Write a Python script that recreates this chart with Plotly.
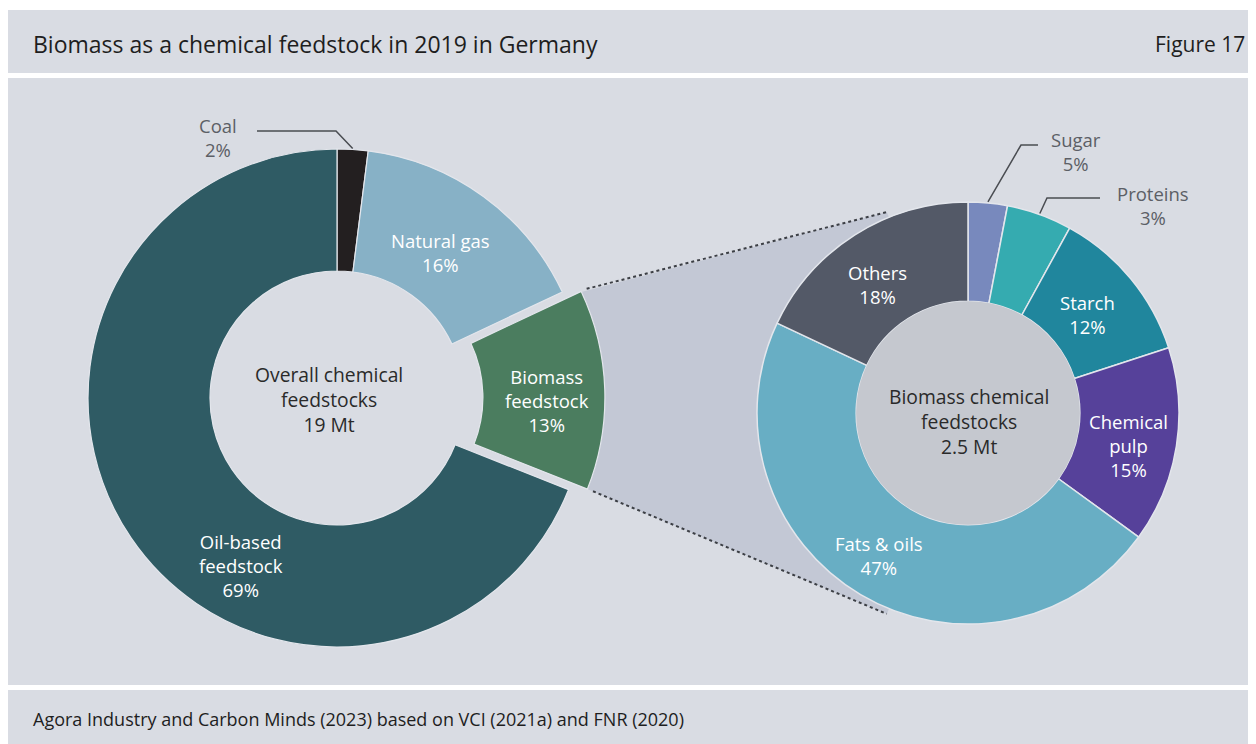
import numpy as np
import plotly.graph_objects as go

# The page places the figure 8 px from the window's top-left corner,
# so the figure is 8 px smaller and screen positions are shifted by 8.
OFF = 8
W, H = 1256 - OFF, 744 - OFF

# ---------------- data ----------------
overall_labels = ["Coal", "Natural gas", "Biomass<br>feedstock", "Oil-based<br>feedstock"]
overall_share = [2, 16, 13, 69]
overall_pct_text = ["2%", "16%", "13%", "69%"]
overall_total = "19 Mt"

biomass_labels = ["Sugar", "Proteins", "Starch", "Chemical<br>pulp", "Fats & oils", "Others"]
biomass_share = [3, 5, 12, 15, 47, 18]          # slice sizes as drawn
biomass_pct_text = ["5%", "3%", "12%", "15%", "47%", "18%"]  # as printed
biomass_total = "2.5 Mt"

overall_colors = ["#231f20", "#87b1c6", "#4b7d5f", "#2f5b64"]
biomass_colors = ["#7889bd", "#35abb0", "#20869d", "#56419a", "#68aec4", "#535967"]

title = "Biomass as a chemical feedstock in 2019 in Germany"
fig_no = "Figure 17"
source = "Agora Industry and Carbon Minds (2023) based on VCI (2021a) and FNR (2020)"

# ---------------- geometry (screen pixels) ----------------
FONT = "Open Sans"
BG = "#d9dce3"
L_CX, L_CY, L_R, L_PULL, L_HOLE = 337, 398, 249, 0.076, 0.51
R_CX, R_CY, R_R, R_HOLE = 968, 413, 211, 0.53


def px(x):
    return (x - OFF) / W


def py(y):
    return 1 - (y - OFF) / H


fig = go.Figure()

# left donut
half = L_R * (1 + L_PULL)
pulls = [0, 0, L_PULL, 0]
fig.add_trace(go.Pie(
    values=overall_share, labels=overall_labels, sort=False, direction="clockwise",
    rotation=0, hole=L_HOLE, pull=pulls, textinfo="none", hoverinfo="skip",
    marker=dict(colors=overall_colors, line=dict(color="#e3e6ec", width=1.2)),
    domain=dict(x=[px(L_CX - half), px(L_CX + half)], y=[py(L_CY + half), py(L_CY - half)]),
    showlegend=False,
))

# right donut
fig.add_trace(go.Pie(
    values=biomass_share, labels=biomass_labels, sort=False, direction="clockwise",
    rotation=0, hole=R_HOLE, textinfo="none", hoverinfo="skip",
    marker=dict(colors=biomass_colors, line=dict(color="#e3e6ec", width=1.5)),
    domain=dict(x=[px(R_CX - R_R), px(R_CX + R_R)], y=[py(R_CY + R_R), py(R_CY - R_R)]),
    showlegend=False,
))
# filled hole of right donut
rh = R_R * R_HOLE
fig.add_trace(go.Pie(
    values=[1], labels=["hole"], textinfo="none", hoverinfo="skip", sort=False,
    marker=dict(colors=["#c5c8cf"], line=dict(width=0)),
    domain=dict(x=[px(R_CX - rh), px(R_CX + rh)], y=[py(R_CY + rh), py(R_CY - rh)]),
    showlegend=False,
))

shapes = []
# panels
for y0, y1 in [(10, 73), (78, 685), (690, 760)]:
    shapes.append(dict(type="rect", xref="paper", yref="paper", x0=0, x1=1.01,
                       y0=py(y1), y1=py(y0), fillcolor=BG, line=dict(width=0), layer="below"))

# connector region
tot = sum(overall_share)
a0 = 2 * np.pi * sum(overall_share[:2]) / tot
a1 = a0 + 2 * np.pi * overall_share[2] / tot
am = (a0 + a1) / 2
pcx = L_CX + L_PULL * L_R * np.sin(am)
pcy = L_CY - L_PULL * L_R * np.cos(am)
b_top = np.deg2rad(338)
b_bot = np.deg2rad(202)
rr = R_R * 1.027
top_end = (R_CX + rr * np.sin(b_top), R_CY - rr * np.cos(b_top))
bot_end = (R_CX + rr * np.sin(b_bot), R_CY - rr * np.cos(b_bot))
arc = np.linspace(a1, a0, 30)
ra = L_R - 4
arc_pts = [(pcx + ra * np.sin(a), pcy - ra * np.cos(a)) for a in arc]
pts = [arc_pts[-1], top_end, (R_CX, R_CY), bot_end] + arc_pts
path = "M " + " L ".join(f"{px(x):.5f},{py(y):.5f}" for x, y in pts) + " Z"
shapes.append(dict(type="path", xref="paper", yref="paper", path=path,
                   fillcolor="#c3c8d5", line=dict(width=0), layer="below"))
rc = L_R + 6
for a, end in [(a0, top_end), (a1, bot_end)]:
    sx, sy = pcx + rc * np.sin(a), pcy - rc * np.cos(a)
    shapes.append(dict(type="line", xref="paper", yref="paper",
                       x0=px(sx), y0=py(sy), x1=px(end[0]), y1=py(end[1]),
                       line=dict(color="#3c3f45", width=2, dash="dot"), layer="above"))


# leader lines
def leader(cx, cy, r, shares, idx, elbow, end):
    t = sum(shares)
    a = 2 * np.pi * (sum(shares[:idx]) + shares[idx] / 2) / t
    sx, sy = cx + (r + 1) * np.sin(a), cy - (r + 1) * np.cos(a)
    p = f"M {px(sx):.5f},{py(sy):.5f} L {px(elbow[0]):.5f},{py(elbow[1]):.5f} L {px(end[0]):.5f},{py(end[1]):.5f}"
    return dict(type="path", xref="paper", yref="paper", path=p,
                line=dict(color="#4a4d52", width=1.5), layer="above")


shapes.append(leader(L_CX, L_CY, L_R, overall_share, 0, (336, 131), (257, 131)))
shapes.append(leader(R_CX, R_CY, R_R, biomass_share, 0, (1021, 145), (1038, 145)))
shapes.append(leader(R_CX, R_CY, R_R, biomass_share, 1, (1047, 198), (1100, 198)))

annotations = []


def ann(text, x, y, size=18.5, color="white", xanchor="center"):
    annotations.append(dict(text=text, x=px(x), y=py(y), xref="paper", yref="paper",
                            showarrow=False, xanchor=xanchor, yanchor="middle", align="center",
                            font=dict(family=FONT, size=size, color=color)))


ann(title, 31, 44, size=23, color="#1e1e1e", xanchor="left")
ann(fig_no, 1247, 44, size=21, color="#1e1e1e", xanchor="right")
ann(source, 31, 719, size=18, color="#1e1e1e", xanchor="left")

GRAY = "#5c5f66"
ann(f"{overall_labels[0]}<br>{overall_pct_text[0]}", 218, 137, color=GRAY)
ann(f"{overall_labels[1]}<br>{overall_pct_text[1]}", 440, 253)
ann(f"{overall_labels[2]}<br>{overall_pct_text[2]}", 547, 400)
ann(f"{overall_labels[3]}<br>{overall_pct_text[3]}", 241, 565)
ann(f"Overall chemical<br>feedstocks<br>{overall_total}", 329, 399, size=19.3, color="#2a2a2a")

ann(f"{biomass_labels[0]}<br>{biomass_pct_text[0]}", 1076, 151, color=GRAY)
ann(f"{biomass_labels[1]}<br>{biomass_pct_text[1]}", 1153, 205, color=GRAY)
ann(f"{biomass_labels[2]}<br>{biomass_pct_text[2]}", 1087, 314)
ann(f"{biomass_labels[3]}<br>{biomass_pct_text[3]}", 1128, 445)
ann(f"{biomass_labels[4]}<br>{biomass_pct_text[4]}", 879, 555)
ann(f"{biomass_labels[5]}<br>{biomass_pct_text[5]}", 877, 285)
ann(f"Biomass chemical<br>feedstocks<br>{biomass_total}", 969, 421, size=19.3, color="#2a2a2a")

fig.update_layout(
    width=W, height=H, margin=dict(l=0, r=0, t=0, b=0),
    paper_bgcolor="white", plot_bgcolor="white",
    shapes=shapes, annotations=annotations, showlegend=False,
    font=dict(family=FONT),
)
fig.write_html("out.html")
